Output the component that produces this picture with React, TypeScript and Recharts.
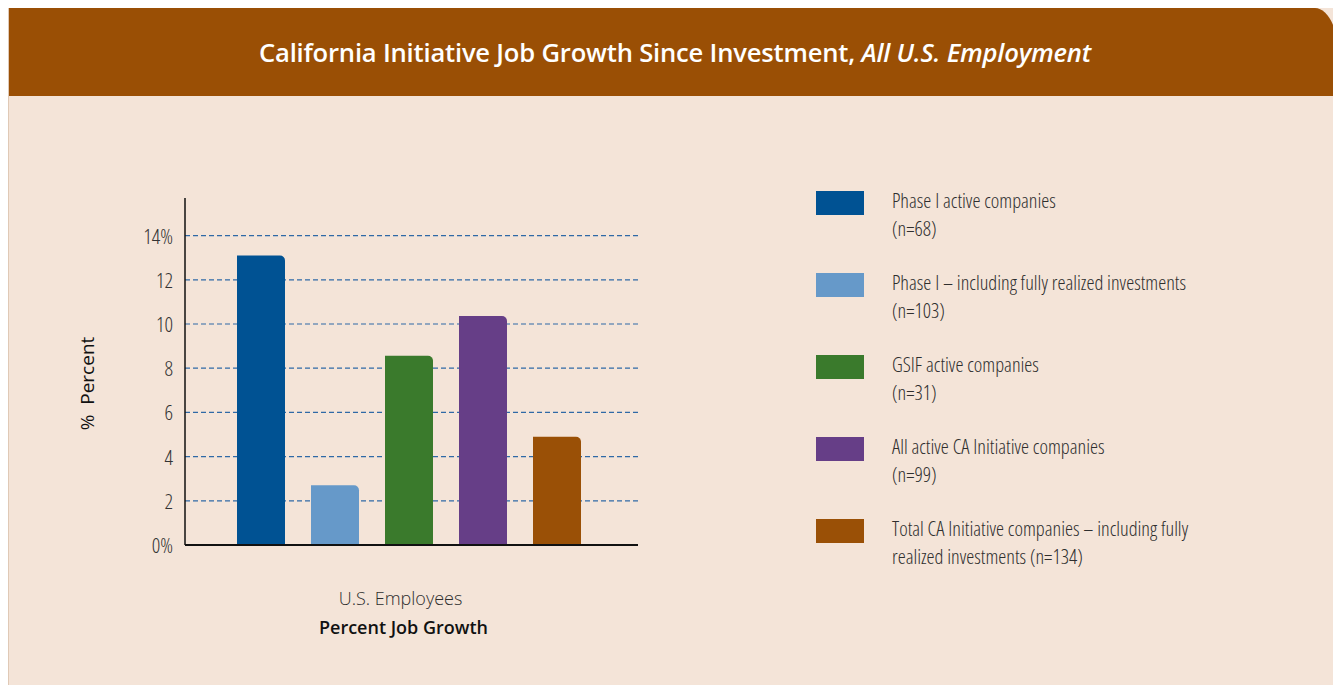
import React from "react";
import {
    BarChart,
    Bar,
    XAxis,
    YAxis,
    CartesianGrid,
} from "recharts";

// values
const CATEGORIES = ["U.S. Employees"];
const SERIES_KEYS = ["phase1Active", "phase1All", "gsifActive", "caActive", "caTotal"];
const SERIES_LINE1 = [
    "Phase I active companies",
    "Phase I \u2013 including fully realized investments",
    "GSIF active companies",
    "All active CA Initiative companies",
    "Total CA Initiative companies \u2013 including fully",
];
const SERIES_LINE2 = ["(n=68)", "(n=103)", "(n=31)", "(n=99)", "realized investments (n=134)"];
const SERIES_VALUES = [13.1, 2.7, 8.56, 10.36, 4.9];
const SERIES_COLORS = ["#005293", "#6699c9", "#3a7a2c", "#663e87", "#9a5006"];
const Y_TICKS = [0, 2, 4, 6, 8, 10, 12, 14];

const data = CATEGORIES.map((name) => {
    const row: Record<string, string | number> = { name };
    SERIES_KEYS.forEach((k, i) => {
        row[k] = SERIES_VALUES[i];
    });
    return row;
});

const FONT = '"Open Sans", "Noto Sans", sans-serif';
const NARROW: React.CSSProperties = { fontFamily: FONT, fontStretch: "75%", fontWeight: 300 };

function yTickFormat(v: number) {
    return v === 0 || v === 14 ? `${v}%` : `${v}`;
}

function LegendBox() {
    return (
        <div
            style={{
                ...NARROW,
                position: "absolute",
                left: 807,
                top: 182,
                fontSize: 20.3,
                color: "#2e2e2e",
            }}
        >
            {SERIES_KEYS.map((k, i) => (
                <div key={k} style={{ display: "flex", height: 82 }}>
                    <div
                        style={{
                            width: 48,
                            height: 24,
                            background: SERIES_COLORS[i],
                            marginRight: 28,
                            marginTop: 1,
                            flexShrink: 0,
                        }}
                    />
                    <div style={{ lineHeight: "28px", marginTop: -4, whiteSpace: "nowrap" }}>
                        <div>{SERIES_LINE1[i]}</div>
                        <div>{SERIES_LINE2[i]}</div>
                    </div>
                </div>
            ))}
        </div>
    );
}

function YTick(props: any) {
    const { x, y, payload } = props;
    return (
        <text
            x={x}
            y={y}
            textAnchor="end"
            dominantBaseline="central"
            fontSize={21}
            fill="#333"
            style={NARROW}
        >
            {yTickFormat(payload.value)}
        </text>
    );
}

function XTick(props: any) {
    const { x, y, payload } = props;
    return (
        <text
            x={x - 8}
            y={y}
            textAnchor="middle"
            dominantBaseline="central"
            fontSize={18}
            fill="#2e2e2e"
            style={{ fontFamily: FONT, fontWeight: 300 }}
        >
            {payload.value}
        </text>
    );
}

function YLabel(props: any) {
    const { viewBox } = props;
    const cx = 78;
    const cy = viewBox.y + viewBox.height / 2 + 12;
    return (
        <text
            x={cx}
            y={cy}
            transform={`rotate(-90, ${cx}, ${cy})`}
            textAnchor="middle"
            dominantBaseline="central"
            fontSize={19}
            fill="#111"
            style={{ fontFamily: FONT, fontWeight: 400, whiteSpace: "pre" }}
        >
            {"%  Percent"}
        </text>
    );
}

function XLabel(props: any) {
    const { viewBox } = props;
    return (
        <text
            x={viewBox.x + viewBox.width / 2 - 8}
            y={viewBox.y + 82}
            textAnchor="middle"
            dominantBaseline="central"
            fontSize={18}
            fill="#111"
            style={{ fontFamily: FONT, fontWeight: 600 }}
        >
            Percent Job Growth
        </text>
    );
}

export default function App() {
    return (
        <div
            style={{
                width: 1333,
                height: 677,
                background: "#f4e4d8",
                position: "relative",
                borderLeft: "1px solid #e0c9b6",
                boxSizing: "border-box",
            }}
        >
            <div
                style={{
                    height: 88,
                    background: "#9a4f05",
                    borderTopRightRadius: "26px 60px",
                    display: "flex",
                    alignItems: "center",
                    justifyContent: "center",
                    color: "#fff",
                    fontFamily: FONT,
                    fontWeight: 600,
                    fontSize: 25.6,
                    letterSpacing: -0.2,
                }}
            >
                <span>
                    California Initiative Job Growth Since Investment, <i>All U.S. Employment</i>
                </span>
            </div>
            <BarChart
                width={1332}
                height={589}
                data={data}
                margin={{ top: 102, right: 703, bottom: 110, left: 0 }}
                barSize={48}
                barGap={26}
                style={{ position: "absolute", left: 0, top: 88 }}
            >
                <CartesianGrid
                    horizontal
                    vertical={false}
                    syncWithTicks
                    stroke="#2f69a6"
                    strokeDasharray="5 3"
                    strokeWidth={1.2}
                />
                <XAxis
                    dataKey="name"
                    height={30}
                    padding={{ left: 0, right: 6 }}
                    axisLine={{ stroke: "#111", strokeWidth: 2 }}
                    tickLine={false}
                    tick={<XTick />}
                    tickMargin={47}
                    label={<XLabel />}
                />
                <YAxis
                    width={176}
                    domain={[0, 15.7]}
                    ticks={Y_TICKS}
                    axisLine={{ stroke: "#111", strokeWidth: 1.5 }}
                    tickLine={false}
                    tickMargin={6}
                    tick={<YTick />}
                    label={<YLabel />}
                />
                {SERIES_KEYS.map((k, i) => (
                    <Bar
                        key={k}
                        dataKey={k}
                        fill={SERIES_COLORS[i]}
                        radius={[0, 5, 0, 0]}
                        isAnimationActive={false}
                    />
                ))}
            </BarChart>
            <LegendBox />
        </div>
    );
}
